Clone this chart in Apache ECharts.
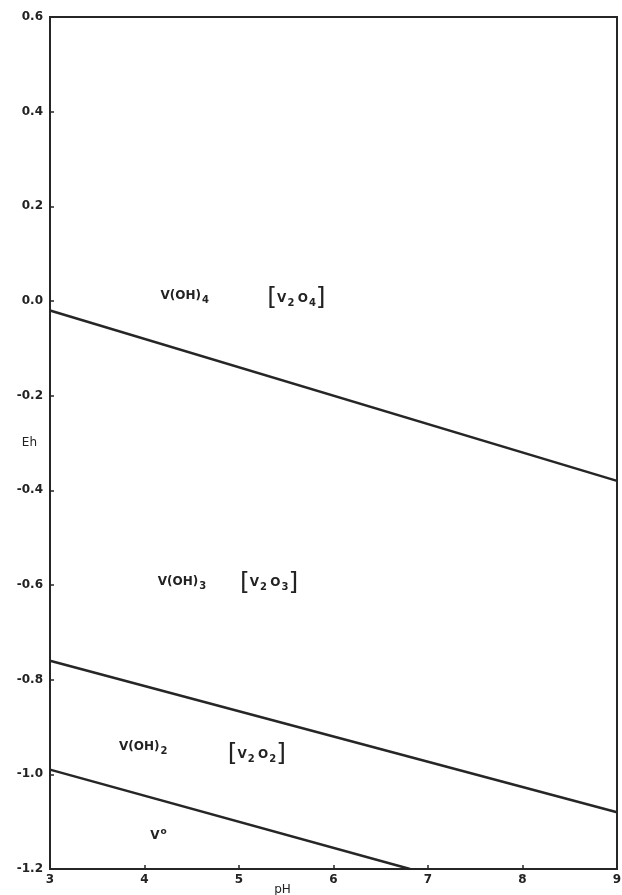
<!DOCTYPE html>
<html>
<head>
<meta charset="utf-8">
<script src="https://cdn.jsdelivr.net/npm/echarts@6/dist/echarts.min.js"></script>
<style>html,body{margin:0;padding:0;background:#fff;}#c{width:622px;height:895px;}</style>
</head>
<body>
<div id="c"></div>
<script>
// Boundary lines (pH, Eh)
const line1pH = [3, 9];
const line1Eh = [-0.02, -0.38];
const line2pH = [3, 9];
const line2Eh = [-0.76, -1.08];
const line3pH = [3, 6.81];
const line3Eh = [-0.99, -1.2];

// Region labels: text and anchor (pH, Eh) of their left edge
const labelText = [
  '{t|V(OH)}{sub|4}',
  '{br|[}{t|V}{sub|2} {t|O}{sub|4}{br|]}',
  '{t|V(OH)}{sub|3}',
  '{br|[}{t|V}{sub|2} {t|O}{sub|3}{br|]}',
  '{t|V(OH)}{sub|2}',
  '{br|[}{t|V}{sub|2} {t|O}{sub|2}{br|]}',
  '{t|V}{sup|o}'
];
const labelpH = [4.17, 5.30, 4.14, 5.01, 3.73, 4.88, 4.06];
const labelEh = [0.01, 0.005, -0.594, -0.596, -0.942, -0.959, -1.13];

const xTicks = { min: 3, max: 9, interval: 1 };
const yTicks = { min: -1.2, max: 0.6, interval: 0.2 };

const ink = '#262626';
const txt = '#222';
const font = 'DejaVu Sans';

function pairs(xs, ys) { return xs.map((x, i) => [x, ys[i]]); }

const lineStyle = { color: ink, width: 2.5 };
const mkLine = (xs, ys) => ({
  type: 'line', data: pairs(xs, ys), symbol: 'none', lineStyle: lineStyle,
  animation: false, silent: true, z: 3
});

const chart = echarts.init(document.getElementById('c'), null, { renderer: 'canvas' });
chart.setOption({
  backgroundColor: '#fff',
  animation: false,
  grid: {
    left: 50, right: 5, top: 17, bottom: 26, containLabel: false, outerBoundsMode: 'none',
    show: true, borderColor: ink, borderWidth: 2, backgroundColor: 'transparent'
  },
  xAxis: {
    type: 'value', min: xTicks.min, max: xTicks.max, interval: xTicks.interval,
    name: 'pH', nameLocation: 'middle', nameGap: 21, nameMoveOverlap: false,
    nameTextStyle: { fontFamily: font, fontSize: 12, color: txt, verticalAlign: 'middle', padding: [0, 102, 0, 0] },
    axisLine: { show: true, onZero: false, lineStyle: { color: ink, width: 2 } },
    axisTick: { show: true, inside: true, length: 4, lineStyle: { color: ink, width: 1.5 } },
    axisLabel: { fontFamily: font, fontSize: 12, color: txt, margin: 5, fontWeight: 'bold' },
    splitLine: { show: false }
  },
  yAxis: {
    type: 'value', min: yTicks.min, max: yTicks.max, interval: yTicks.interval,
    name: 'Eh', nameLocation: 'middle', nameRotate: 0, nameGap: 13, nameMoveOverlap: false,
    nameTextStyle: { fontFamily: font, fontSize: 12, color: txt, align: 'right', verticalAlign: 'middle' },
    axisLine: { show: true, onZero: false, lineStyle: { color: ink, width: 2 } },
    axisTick: { show: true, inside: true, length: 4, lineStyle: { color: ink, width: 1.5 } },
    axisLabel: {
      fontFamily: font, fontSize: 12, color: txt, margin: 7, fontWeight: 'bold',
      formatter: v => { const r = Math.round(v * 10) / 10; return (r === 0 ? 0 : r).toFixed(1); }
    },
    splitLine: { show: false }
  },
  series: [
    mkLine(line1pH, line1Eh),
    mkLine(line2pH, line2Eh),
    mkLine(line3pH, line3Eh),
    {
      type: 'scatter', symbolSize: 0, silent: true, z: 4,
      itemStyle: { opacity: 1 },
      data: labelpH.map((x, i) => ({ value: [x, labelEh[i]], name: labelText[i] })),
      label: {
        show: true, position: 'right', distance: 0, opacity: 1,
        formatter: p => p.name,
        rich: {
          t: { fontFamily: font, fontSize: 12, color: txt, fontWeight: 'bold' },
          sub: { fontFamily: font, fontSize: 10, color: txt, fontWeight: 'bold', padding: [9, 0, 0, 1] },
          sup: { fontFamily: font, fontSize: 9, color: txt, fontWeight: 'bold', padding: [0, 0, 9, 1] },
          br: { fontFamily: font, fontSize: 25, color: txt }
        }
      }
    }
  ]
});
</script>
</body>
</html>
